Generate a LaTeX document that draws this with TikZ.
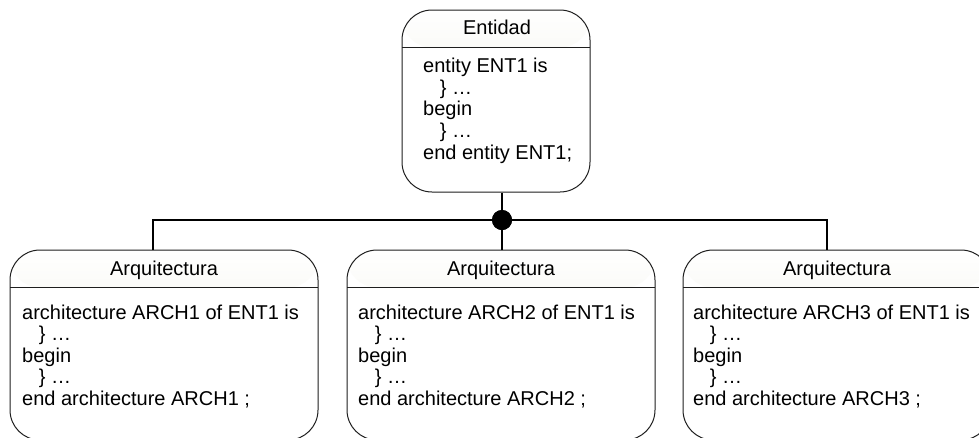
\documentclass[tikz,border=0pt]{standalone}
\usepackage{fontspec}
\setmainfont{Liberation Sans}
\definecolor{hdrshade}{RGB}{232,232,218}
\definecolor{outline}{RGB}{30,30,30}
\newcommand\bracedots{\hspace*{16.7pt}\}\ …}
\tikzset{
  statebox/.style={draw=outline, line width=1pt, fill=white, rounded corners=30pt,
    inner sep=0pt,
    path picture={
      \shade[top color=white, bottom color=hdrshade]
        (path picture bounding box.north west) rectangle
        ([yshift=-37.5pt]path picture bounding box.north east);
      \draw[outline, line width=1pt]
        ([yshift=-37.5pt]path picture bounding box.north west) --
        ([yshift=-37.5pt]path picture bounding box.north east);
    }},
  hdrlabel/.style={anchor=base, inner sep=0pt},
  bodyline/.style={anchor=base west, inner sep=0pt},
  wire/.style={line width=1.6pt, black},
  junction/.style={circle, fill=black, minimum size=20pt, inner sep=0pt}
}
\begin{document}
\begin{tikzpicture}[x=1pt, y=-1pt, font=\fontsize{20}{24}\selectfont]
\useasboundingbox (0,0) rectangle (979,437);
\clip (0,0) rectangle (979,437);

% connectors
\coordinate (jl) at (153,220);
\coordinate (jr) at (827,220);
\node[junction] (dot) at (502,220) {};

% boxes
\node[statebox, minimum width=188pt, minimum height=182pt] (ent) at (496,101) {};
\node[statebox, minimum width=308pt, minimum height=190pt] (arch1) at (164,345) {};
\node[statebox, minimum width=308pt, minimum height=190pt] (arch2) at (501,345) {};
\node[statebox, minimum width=308pt, minimum height=190pt] (arch3) at (837,345) {};

\draw[wire] (ent.south -| dot) -- (dot);
\draw[wire] (jl |- arch1.north) -- (jl) -- (jr) -- (jr |- arch3.north);
\draw[wire] (dot) -- (dot |- arch2.north);
\node[junction] at (dot) {};

% titles
\node[hdrlabel] (ent-t) at (497,34.3) {Entidad};
\node[hdrlabel] (arch1-t) at (164,275) {Arquitectura};
\node[hdrlabel] (arch2-t) at (501,275) {Arquitectura};
\node[hdrlabel] (arch3-t) at (837,275) {Arquitectura};

% bodies
\foreach \t [count=\i] in {entity ENT1 is, \bracedots, begin, \bracedots, end entity ENT1;}
  \node[bodyline] (ent-\i) at (423, 72.7 + 21.6*\i - 21.6) {\t};
\foreach \t [count=\i] in {architecture ARCH1 of ENT1 is, \bracedots, begin, \bracedots, end architecture ARCH1 ;}
  \node[bodyline] (arch1-\i) at (22, 319 + 21.6*\i - 21.6) {\t};
\foreach \t [count=\i] in {architecture ARCH2 of ENT1 is, \bracedots, begin, \bracedots, end architecture ARCH2 ;}
  \node[bodyline] (arch2-\i) at (358, 319 + 21.6*\i - 21.6) {\t};
\foreach \t [count=\i] in {architecture ARCH3 of ENT1 is, \bracedots, begin, \bracedots, end architecture ARCH3 ;}
  \node[bodyline] (arch3-\i) at (693, 319 + 21.6*\i - 21.6) {\t};
\end{tikzpicture}
\end{document}
